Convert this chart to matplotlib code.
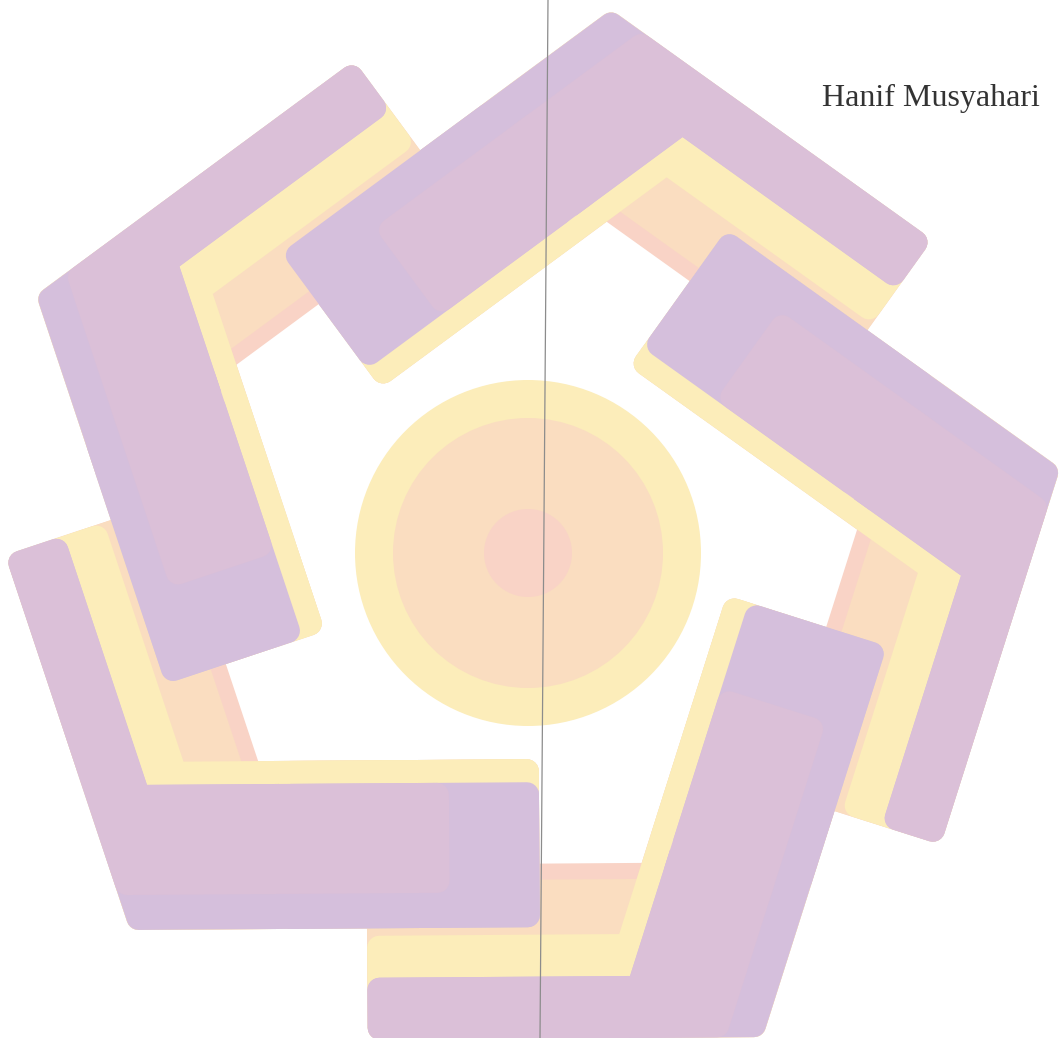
import numpy as np
import matplotlib.pyplot as plt
from matplotlib.patches import Polygon, Circle

# canvas in pixels
W, H = 1064, 1038

# pentagon pinwheel: five bent bars around a centre
centre = (520, 548)
corner_radius = 546        # centre -> outer corner of each bar
first_angle = 80.4         # degrees, top bar
twist = 10                 # bars are turned a little about their corner
short_len = 410            # short arm, lies on top
long_len = 395             # long arm, goes under the next bar
round_px = 12              # corner rounding
short_start = 150          # where the "on top" part of the short arm begins

# bands of one bar, back to front
band_colours = ['#F9D3C6', '#FADDC0', '#FCEDBA', '#D5BFDC', '#DBC0D8']
short_outer = [0, 0, 0, 0, 35]
short_inner = [168, 168, 168, 145, 145]
long_outer = [0, 0, 0, 0, 0]
long_inner = [175, 159, 104, 62, 62]
short_trim = [0, 0, 0, 0, 90]

# centre disc
disc_centre = (528, 553)
disc_radii = [173, 135, 44]
disc_colours = ['#FCEDBA', '#FADDC0', '#F9D3C6']

# thin scan line
line_x = [548, 540]
line_y = [0, 1038]

name = 'Hanif Musyahari'


def unit(deg):
    # image coords, y goes down
    a = np.radians(deg)
    return np.array([np.cos(a), -np.sin(a)])


def bar_frame(k):
    th = first_angle - 72 * k
    o = np.array(centre) + corner_radius * unit(th)
    u = unit(th + 126 + twist)
    v = unit(th - 126 + twist)
    nu = v - np.dot(v, u) * u
    nu /= np.linalg.norm(nu)
    nv = u - np.dot(u, v) * v
    nv /= np.linalg.norm(nv)
    return o, u, v, nu, nv


def meet(o, u, v, nu, nv, du, dv):
    m = np.column_stack([u, -v])
    s, t = np.linalg.solve(m, dv * nv - du * nu)
    return o + du * nu + s * u


def band_points(k, i, r):
    o, u, v, nu, nv = bar_frame(k)
    so, si = short_outer[i] + r, short_inner[i] - r
    lo, li = long_outer[i] + r, long_inner[i] - r
    ls = short_len - short_trim[i] - r
    ll = long_len - r
    return [meet(o, u, v, nu, nv, so, lo),
            o + so * nu + ls * u,
            o + si * nu + ls * u,
            meet(o, u, v, nu, nv, si, li),
            o + li * nv + ll * v,
            o + lo * nv + ll * v]


def strip_points(k, d0, d1, s0, s1, r):
    # straight piece of the short arm, offsets d0..d1, along s0..s1
    o, u, v, nu, nv = bar_frame(k)
    d0, d1, s0, s1 = d0 + r, d1 - r, s0 + r, s1 - r
    return [o + d0 * nu + s0 * u, o + d0 * nu + s1 * u,
            o + d1 * nu + s1 * u, o + d1 * nu + s0 * u]


def add_shape(ax, pts, colour, r):
    ax.add_patch(Polygon(pts, closed=True, facecolor=colour, edgecolor=colour,
                         linewidth=2 * r * 72 / 100, joinstyle='round'))


fig = plt.figure(figsize=(W / 100, H / 100), dpi=100)
ax = fig.add_axes([0, 0, 1, 1])
ax.set_xlim(0, W)
ax.set_ylim(H, 0)
ax.axis('off')

r = round_px
# pass 1: whole bars
for k in range(5):
    for i in range(len(band_colours)):
        add_shape(ax, band_points(k, i, r), band_colours[i], r)

# pass 2: short arm ends lie over the previous bar
for k in range(5):
    s0 = short_start
    add_shape(ax, strip_points(k, short_inner[3] - 15, short_inner[2],
                               s0, short_len, r), band_colours[2], r)
    add_shape(ax, strip_points(k, short_outer[3], short_inner[3],
                               s0, short_len, r), band_colours[3], r)
    add_shape(ax, strip_points(k, short_outer[4], short_inner[4],
                               s0 - 30, short_len - short_trim[4], r),
              band_colours[4], r)

for rad, col in zip(disc_radii, disc_colours):
    ax.add_patch(Circle(disc_centre, rad, color=col, lw=0))

ax.plot(line_x, line_y, color='#8c8c8c', lw=0.9)

ax.text(822, 106, name, fontsize=23, family='Liberation Serif',
        color='#333333', va='baseline', ha='left')

fig.savefig('out.png', dpi=100, facecolor='white')
